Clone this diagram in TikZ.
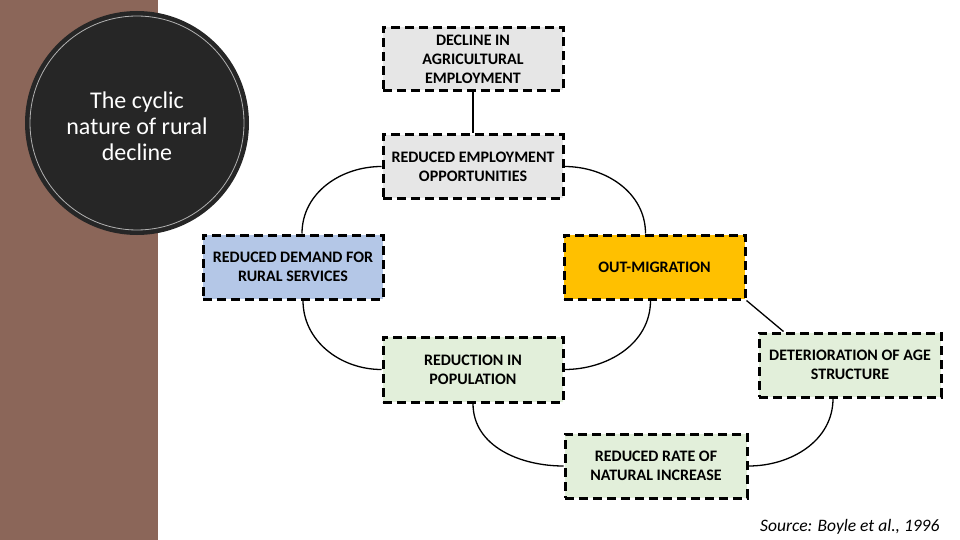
\documentclass[tikz,border=0pt]{standalone}
\usepackage{fontspec}
\setmainfont{Carlito}
\usepackage{xcolor}
\usetikzlibrary{calc, positioning}
\definecolor{stripbrown}{RGB}{139,102,89}
\definecolor{circledark}{RGB}{38,38,38}
\definecolor{boxgray}{RGB}{230,230,230}
\definecolor{boxblue}{RGB}{180,199,231}
\definecolor{boxorange}{RGB}{255,192,0}
\definecolor{boxgreen}{RGB}{226,239,218}

\begin{document}
\begin{tikzpicture}
      [x=1pt, y=-1pt, text centered,
       stagebox/.style={draw=black, line width=3pt, dash pattern=on 9pt off 5pt,
         rectangle, minimum width=180pt, minimum height=63pt, align=center,
         font=\fontsize{16}{19}\selectfont\bfseries},
       link/.style={line width=1.3pt}]

      \useasboundingbox (0,0) rectangle (960,540);

      % background %
      \fill[stripbrown] (0,0) rectangle (158,540);
      \fill[circledark] (137,123) circle (112);
      \draw[gray!60, line width=0.8pt] (137,123) circle (107);
      \node[text=white, align=center, font=\fontsize{24}{26}\selectfont] (title)
        at (137,126) {The cyclic\\nature of rural\\decline};

      %nodes
      \node[stagebox, fill=boxgray] (agri) at (473,59) {DECLINE IN\\AGRICULTURAL\\EMPLOYMENT};
      \node[stagebox, fill=boxgray] (jobs) at (473,166.5) {REDUCED EMPLOYMENT\\OPPORTUNITIES};
      \node[stagebox, fill=boxblue, minimum height=64pt] (services) at (293,267) {REDUCED DEMAND FOR\\RURAL SERVICES};
      \node[stagebox, fill=boxorange, minimum width=181pt, minimum height=64pt] (migration) at (654.5,267) {OUT-MIGRATION};
      \node[stagebox, fill=boxgreen, minimum height=65pt] (population) at (473,369.5) {REDUCTION IN\\POPULATION};
      \node[stagebox, fill=boxgreen, minimum width=182pt, minimum height=64pt] (agestruct) at (850,365) {DETERIORATION OF AGE\\STRUCTURE};
      \node[stagebox, fill=boxgreen, minimum width=182pt, minimum height=64pt] (natural) at (656,466) {REDUCED RATE OF\\NATURAL INCREASE};

      \node[anchor=east, font=\fontsize{17.5}{20}\selectfont\itshape] (source) at (943,527) {Source: Boyle et al., 1996};

      % edges %
      \draw[link] (agri.south) -- (jobs.north);
      \draw[link] (jobs.west) to[out=180, in=90] ([xshift=9pt]services.north);
      \draw[link] (jobs.east) to[out=0, in=90] ([xshift=-9pt]migration.north);
      \draw[link] ([xshift=10pt]services.south) to[out=-90, in=180] (population.west);
      \draw[link] ([xshift=-4pt]migration.south) to[out=-90, in=0] (population.east);
      \draw[link] (migration.south east) -- ([xshift=26pt]agestruct.north west);
      \draw[link] (population.south) to[out=-90, in=180] (natural.west);
      \draw[link] (natural.east) to[out=0, in=-90] ([xshift=-17pt]agestruct.south);
\end{tikzpicture}
\end{document}
